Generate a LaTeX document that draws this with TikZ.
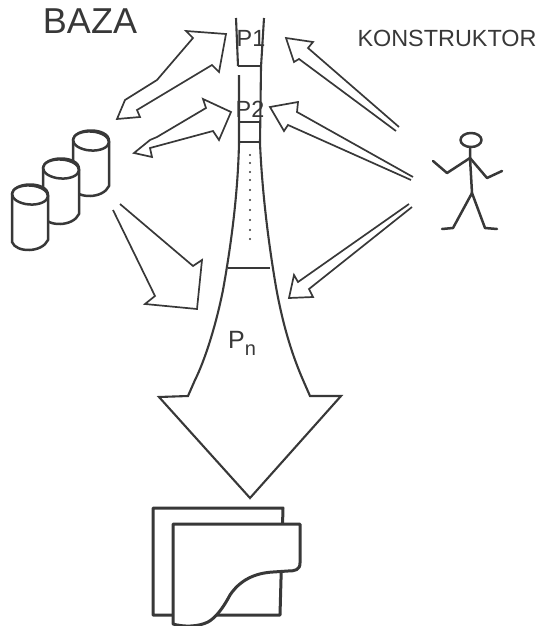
\documentclass[tikz,border=0pt]{standalone}
\usepackage{fontspec}
\usepackage{xcolor}
\usepackage{tikz}
\setmainfont{Liberation Sans}
\definecolor{ink}{gray}{0.22}
\tikzstyle{label} = [text=ink, inner sep=0pt, font=\fontsize{23.4}{25}\selectfont]
\tikzstyle{wide} = [draw=ink, line width=1.7pt, line join=miter]
\tikzstyle{tower} = [draw=ink, line width=2.1pt, line join=miter]
\tikzstyle{sketch} = [draw=ink, line width=2.5pt, line join=round, line cap=round]
\tikzstyle{sheet} = [draw=ink, line width=3pt, fill=white, line join=round]

\begin{document}
\begin{tikzpicture}[x=1pt, y=-1pt]
    \useasboundingbox (0,0) rectangle (542,626);

    % Labels
    \node (baza) [label, font=\fontsize{36}{38}\selectfont] at (90,21) {BAZA};
    \node (konstruktor) [label] at (447,38) {KONSTRUKTOR};
    \node (p1) [label] at (251,38) {P1};
    \node (p2) [label] at (250,109) {P2};
    \node (pn) [label, font=\fontsize{25}{27}\selectfont] at (242,343) {P\raisebox{-7pt}{\fontsize{20}{22}\selectfont n}};

    % Tower and big arrow
    \draw [tower] (236,18) -- (238,66);
    \draw [tower] (239,75) -- (239,143) .. controls (238,190) and (232,240) .. (223,290)
        .. controls (216,325) and (205,360) .. (195,380) -- (188,396) -- (159,397) -- (250,498)
        -- (341,396) -- (310,396) -- (303,380) .. controls (290,350) and (282,320) .. (276,287)
        .. controls (268,240) and (262,190) .. (260,143) -- (261,67) -- (264,18);
    \draw [tower, line width=1.5pt] (238,66) -- (260,66);
    \draw [tower, line width=1.2pt] (240,122) -- (259,122);
    \draw [tower, line width=1.5pt] (240,142) -- (259,142);
    \draw [tower] (228,268) -- (270,268);
    \foreach \y in {155,163,172,180,190,200,210,220,230,239}
        \fill [ink] (250,\y) circle (1.2pt);

    % Arrows
    \draw [wide] (226,34) -- (186,31) -- (193,38) -- (157,80) -- (125,100) -- (117,119) -- (140,117)
        -- (137,110) -- (212,65) -- (219,72) -- cycle;
    \draw [wide] (231,112) -- (203,99) -- (206,108) -- (157,137) -- (150,140) -- (134,153) -- (152,157)
        -- (150,148) -- (213,131) -- (219,140) -- cycle;
    \draw [wide] (120,204) -- (193,266) -- (202,260) -- (197,309) -- (145,304) -- (155,296) -- (113,210);
    \draw [wide] (399,127) -- (308,48) -- (313,42) -- (286,38) -- (294,62) -- (299,59) -- (396,131);
    \draw [wide] (413,177) -- (297,112) -- (298,102) -- (270,107) -- (284,131) -- (288,125) -- (411,180);
    \draw [wide] (409,204) -- (298,282) -- (294,275) -- (289,298) -- (313,297) -- (309,289) -- (412,207);

    % Cylinders
    \foreach \cx/\cy in {91/141, 61/169, 30/195} {
        \draw [sketch, fill=white] (\cx-18,\cy) -- (\cx-18,\cy+47) .. controls (\cx-14,\cy+58) and (\cx+12,\cy+58) .. (\cx+18,\cy+45) -- (\cx+18,\cy)
            .. controls (\cx+18,\cy-14) and (\cx-18,\cy-14) .. (\cx-18,\cy) -- cycle;
        \draw [sketch, fill=white, rotate around={-4:(\cx,\cy)}] (\cx,\cy) ellipse (18 and 9.5);
    }

    % Person
    \draw [sketch] (471,140) ellipse (10.5 and 7);
    \draw [sketch] (470,147) -- (470,158) -- (472,193);
    \draw [sketch] (433,161) -- (447,173) -- (470,158) -- (487,178) -- (502,171);
    \draw [sketch] (442,229) -- (453,228) -- (472,193) -- (485,228) -- (497,229);

    % Sheets
    \draw [sheet] (153,508) -- (283,508) -- (280,615) -- (153,615) -- cycle;
    \draw [sheet] (173,624) -- (173,524) -- (300,524) -- (300,563) .. controls (300,570) and (295,571) .. (288,571)
        -- (273,572) .. controls (255,573) and (240,580) .. (230,595)
        .. controls (222,610) and (215,618) .. (208,622) .. controls (198,627) and (183,627) .. (173,624) -- cycle;
\end{tikzpicture}
\end{document}
